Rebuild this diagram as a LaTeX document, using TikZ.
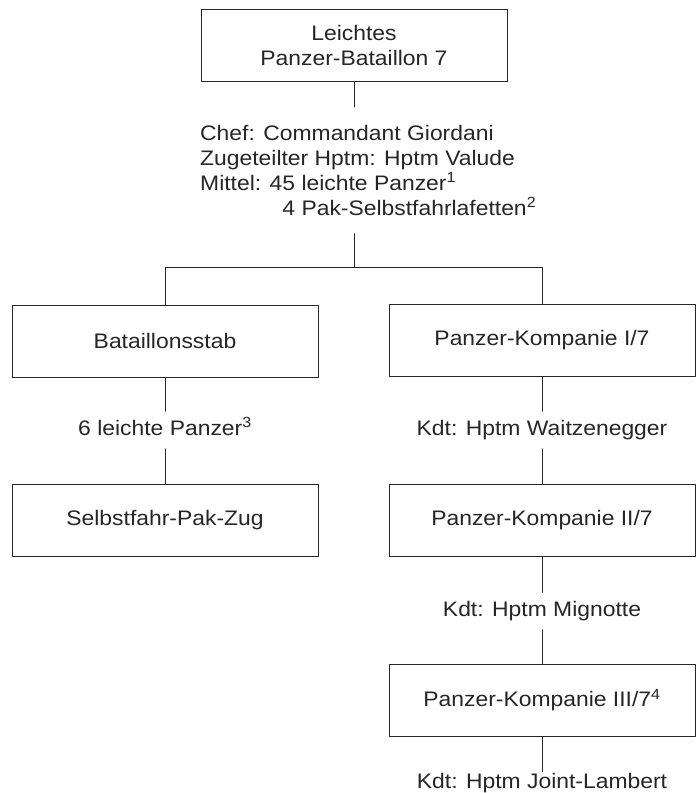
\documentclass[tikz,border=0pt]{standalone}
\usepackage{fontspec}
\setmainfont[FakeStretch=1.09]{Liberation Sans}
\usepackage{tikz}
\definecolor{ink}{RGB}{38,38,38}
\tikzset{unit/.style={draw=ink,line width=0.9pt,minimum width=306pt,minimum height=72pt,align=center,text=ink},
 lbl/.style={anchor=base,inner ysep=0pt,text height=23.5pt,text depth=13.5pt,text=ink},
 link/.style={draw=ink,line width=0.8pt},
 every picture/.style={line join=round,line cap=round}}

\begin{document}
\begin{tikzpicture}[x=1pt,y=-1pt,font=\fontsize{21}{25}\selectfont]
\useasboundingbox[fill=white] (0,0) rectangle (700,793);
\node[unit] (top) at (354,45.5) {Leichtes\\Panzer-Bataillon 7};
\node[anchor=north west,align=left,inner xsep=0pt,inner ysep=18pt,text=ink] (chef) at (200,107)
 {Chef: Commandant Giordani\\Zugeteilter Hptm: Hptm Valude\\Mittel: 45 leichte Panzer\textsuperscript{1}\\\phantom{Mittel: 4}4 Pak-Selbstfahrlafetten\textsuperscript{2}};
\coordinate (split) at (354,267);
\node[unit] (stab) at (165,341) {Bataillonsstab};
\node[unit] (k1) at (542,340) {Panzer-Kompanie I/7};
\node[lbl] (tanks) at (165,435) {6 leichte Panzer\textsuperscript{3}};
\node[lbl] (kdtA) at (542,435) {Kdt: Hptm Waitzenegger};
\node[unit] (zug) at (165,520.5) {Selbstfahr-Pak-Zug};
\node[unit] (k2) at (542,520) {Panzer-Kompanie II/7};
\node[lbl] (kdtB) at (542,616) {Kdt: Hptm Mignotte};
\node[unit] (k3) at (542,700) {Panzer-Kompanie III/7\textsuperscript{4}};
\node[lbl,text height=16pt,text depth=4pt] (kdtC) at (542,788) {Kdt: Hptm Joint-Lambert};
\draw[link] (top.south) -- (top.south |- chef.north);
\draw[link] (top.south |- chef.south) -- (split);
\draw[link] (stab.north) -- (stab.north |- split) -- (k1.north |- split) -- (k1.north);
\draw[link] (stab.south) -- (tanks.north);
\draw[link] (tanks.south) -- (zug.north);
\draw[link] (k1.south) -- (kdtA.north);
\draw[link] (kdtA.south) -- (k2.north);
\draw[link] (k2.south) -- (kdtB.north);
\draw[link] (kdtB.south) -- (k3.north);
\draw[link] (k3.south) -- (kdtC.north);
\end{tikzpicture}
\end{document}
